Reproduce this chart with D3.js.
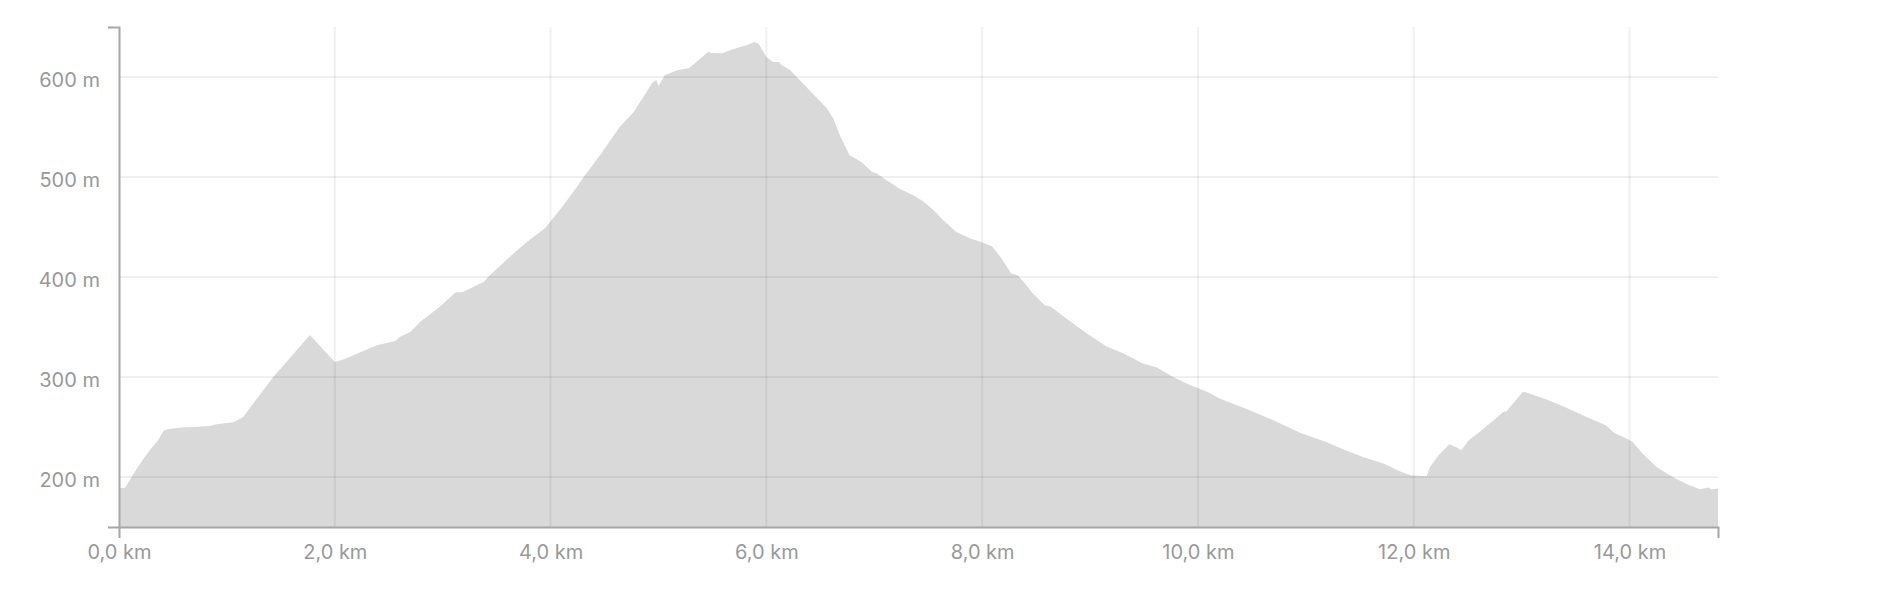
<!DOCTYPE html>
<html>
<head>
<meta charset="utf-8">
<script src="https://cdn.jsdelivr.net/npm/d3@7"></script>
<style>
    body { margin: 0; background: #fff; }
    svg text { font-family: Inter, "Noto Sans", sans-serif; }
</style>
</head>
<body>
<svg id="chart" width="1878" height="596"></svg>
<script>
// distance along the route (km) and elevation (m)
const distance = [
    0.00, 0.055, 0.10, 0.158, 0.225, 0.287, 0.364, 0.41, 0.457, 0.58, 0.70, 0.84, 0.905, 1.06, 1.15,
    1.43, 1.77, 2.00, 2.08, 2.39, 2.56, 2.60, 2.70, 2.79, 2.97, 3.12, 3.18, 3.38, 3.42, 3.62,
    3.78, 3.95, 4.01, 4.12, 4.21, 4.32, 4.46, 4.64, 4.77, 4.86, 4.94, 4.98, 5.00, 5.06, 5.18,
    5.28, 5.35, 5.46, 5.49, 5.59, 5.69, 5.82, 5.89, 5.93, 6.00, 6.06, 6.12, 6.14, 6.22, 6.37,
    6.56, 6.62, 6.68, 6.77, 6.88, 6.98, 7.02, 7.11, 7.24, 7.36, 7.45, 7.55, 7.64, 7.76, 7.89,
    7.99, 8.09, 8.17, 8.27, 8.33, 8.41, 8.47, 8.58, 8.63, 8.78, 8.97, 9.15, 9.31, 9.49, 9.62,
    9.77, 9.93, 10.02, 10.11, 10.20, 10.48, 10.70, 10.95, 11.19, 11.35, 11.53, 11.72, 11.87, 11.97, 12.12,
    12.15, 12.23, 12.33, 12.40, 12.44, 12.51, 12.61, 12.74, 12.83, 12.86, 12.92, 13.01, 13.03, 13.23, 13.41,
    13.60, 13.78, 13.86, 13.97, 14.03, 14.12, 14.25, 14.40, 14.52, 14.65, 14.73, 14.76, 14.82
];
const elevation = [
    189, 189, 197, 207, 218, 227, 237, 246, 248, 249.5, 250, 251, 252.7, 254.7, 260,
    300, 342, 315, 317.5, 331.7, 336, 340, 345, 355, 370, 384.7, 384.7, 395, 400, 420,
    435, 449, 457, 472, 485, 502, 522, 550, 565, 580, 594, 597, 591, 602, 607,
    608.7, 615, 625, 624, 623.7, 627.7, 632, 635, 633, 620, 615, 615, 612, 607, 590,
    568.7, 558.7, 542, 522, 515, 505, 503.7, 497, 488, 481.7, 476, 466.7, 456.7, 445, 438.4,
    435, 430.7, 420, 403.4, 401.7, 391.7, 383.4, 371.7, 370.7, 358.4, 343.4, 330.7, 323.4, 313.4, 309.4,
    300, 291.7, 288, 284, 278.4, 266.7, 256.7, 244, 235, 227.4, 220, 213.4, 205.7, 201.7, 200.7,
    210, 221.7, 232.7, 229.4, 226.7, 236.7, 245, 256.7, 265, 265.7, 273.4, 285, 285, 277.4, 269.4,
    260, 251.7, 244, 238.4, 235, 223.4, 210, 200, 193.4, 187.7, 189.4, 187.4, 188.4
];
const yTicks = [200, 300, 400, 500, 600];
const xTicks = [0, 2, 4, 6, 8, 10, 12, 14];

const profile = distance.map((d, i) => ({ km: d, m: elevation[i] }));

const svg = d3.select("#chart");
const plot = { left: 119, right: 1718, top: 27, bottom: 527 };

const x = d3.scaleLinear().domain([0, 14.82]).range([plot.left, plot.right]);
const y = d3.scaleLinear().domain([150, 650]).range([plot.bottom, plot.top]);

const area = d3.area()
    .x(d => x(d.km))
    .y0(plot.bottom)
    .y1(d => y(d.m));

svg.append("path")
    .datum(profile)
    .attr("fill", "#d9d9d9")
    .attr("d", area);

// grid goes over the area, so it shows through a little darker
const grid = svg.append("g").attr("stroke", "rgba(0,0,0,0.06)").attr("stroke-width", 2);
grid.selectAll(".h").data(yTicks).enter().append("line")
    .attr("x1", plot.left).attr("x2", plot.right)
    .attr("y1", d => y(d)).attr("y2", d => y(d));
grid.selectAll(".v").data(xTicks.filter(d => d > 0)).enter().append("line")
    .attr("x1", d => x(d)).attr("x2", d => x(d))
    .attr("y1", plot.top).attr("y2", plot.bottom);

const yAxis = svg.append("g")
    .attr("transform", `translate(${plot.left},0)`)
    .call(d3.axisLeft(y).tickValues(yTicks).tickSizeInner(0).tickSizeOuter(11).tickPadding(19)
        .tickFormat(d => `${d} m`));

const xAxis = svg.append("g")
    .attr("transform", `translate(0,${plot.bottom})`)
    .call(d3.axisBottom(x).tickValues(xTicks).tickSizeInner(0).tickSizeOuter(11).tickPadding(18)
        .tickFormat(d => `${d3.format(".1f")(d).replace(".", ",")} km`));

[yAxis, xAxis].forEach(a => {
    a.select(".domain").attr("stroke", "#a6a6a6").attr("stroke-width", 2);
    a.selectAll("text").attr("fill", "#999").attr("font-size", 20);
});
yAxis.selectAll("text").attr("dy", "0.47em");
</script>
</body>
</html>
